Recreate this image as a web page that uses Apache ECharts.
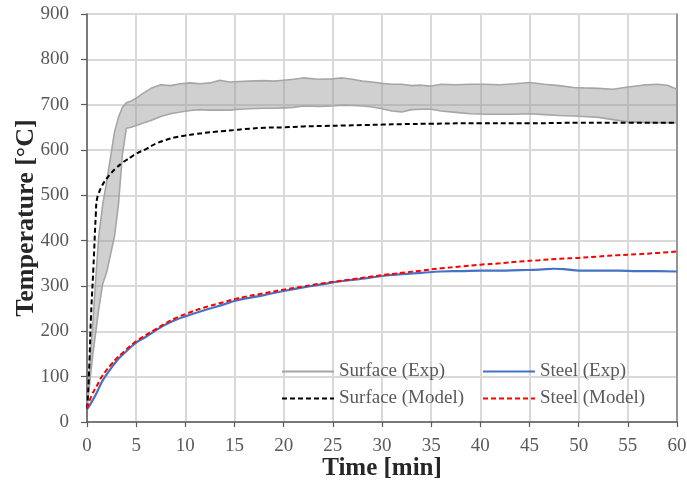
<!DOCTYPE html>
<html>
<head>
<meta charset="utf-8">
<script src="https://cdn.jsdelivr.net/npm/echarts@6/dist/echarts.min.js"></script>
<style>
html,body{margin:0;padding:0;background:#fff;}
#chart{width:687px;height:488px;}
</style>
</head>
<body>
<div id="chart"></div>
<script>
// ---- data ----
var surfExpTime = [0,0.3,0.6,0.9,1.2,1.6,2.0,2.4,2.8,3.2,3.6,4.0,4.5,5,5.5,6.5,7.5,8.5,9.5,10.5,11.5,12.5,13.5,14.5,15.5,16.5,18,19,20,21,22,23.5,25,26,27,28,29,30,31,32,33,34,35,36,37.5,39,40.5,42,43.5,45,46.5,48,49.5,50.5,52,53.5,55,56.5,58,59,60];
var surfExpHigh = [35,130,220,320,410,480,530,585,640,672,694,704,708,714,722,736,744,742,746,748,746,748,754,750,751,752,753,752,754,756,759,756,757,759,756,752,750,747,745,745,742,743,741,745,744,745,745,744,746,749,745,742,738,737,736,734,739,743,745,743,734];
var surfExpLow = [30,90,150,200,250,305,330,370,410,480,590,648,650,654,658,665,674,680,684,687,689,688,688,688,690,691,692,692,693,694,697,696,697,699,698,697,695,691,686,684,689,690,690,686,683,680,679,679,679,680,678,676,675,674,672,667,662,661,660,660,660];

var surfModelTime = [0,0.1,0.25,0.4,0.65,0.9,1.0,1.2,1.5,2,2.5,3,3.5,4,4.5,5,6,7,8,9,10,11,12,13,14,15,16,18,20,22,24,26,28,30,32,35,40,45,50,55,60];
var surfModel = [30,60,135,230,340,460,490,505,520,537,550,561,570,578,585,592,602,614,622,628,632,635,638,640,642,644,646,649,650,652,653,654,655,656,657,658,659,659,660,660,660];

var steelTime = [0,0.5,1,1.5,2,2.5,3,3.5,4,5,6,7,8,9,10,12,14,15,16,18,20,22,24,25,26,28,30,32,34,36,38,40,42,44,46,47.5,49,50,52,54,56,58,60];
var steelExp = [28,45,65,88,105,120,134,146,156,175,188,202,215,225,233,247,260,267,272,280,289,297,304,308,311,316,322,326,329,332,333,334,334,335,336,338,336,334,334,334,333,333,332];

var steelModelTime = [0,0.5,1,1.5,2,2.5,3,3.5,4,5,6,7,8,9,10,12,14,15,16,18,20,22,24,26,28,30,32,34,36,38,40,42,44,46,48,50,52,54,56,58,60];
var steelModel = [30,60,80,100,115,128,140,150,160,178,192,205,218,229,238,253,265,271,276,284,292,299,306,312,318,324,329,334,339,343,347,350,354,357,360,362,365,368,370,373,376];

var xTicks = [0,5,10,15,20,25,30,35,40,45,50,55,60];
var yTicks = [0,100,200,300,400,500,600,700,800,900];
var legendNames = ['Surface (Exp)','Steel (Exp)','Surface (Model)','Steel (Model)'];

// ---- build ----
function pairs(xs, ys){ return xs.map(function(x,i){ return [x, ys[i]]; }); }
var bandRows = surfExpTime.map(function(t,i){ return [t, surfExpLow[i], surfExpHigh[i]]; });

var FONT = '"Liberation Serif", "DejaVu Serif", serif';
var chart = echarts.init(document.getElementById('chart'), null, {renderer:'canvas'});

function leg(name, left, top){
  return {
    data:[name], left:left, top:top, itemWidth:52, itemHeight:14, itemGap:0,
    itemStyle:{opacity:0},
    textStyle:{fontFamily:FONT, fontSize:19, color:'#595959'},
    selectedMode:false
  };
}

chart.setOption({
  animation:false,
  backgroundColor:'#ffffff',
  grid:{left:87, right:10, top:14, bottom:66, containLabel:false, outerBoundsMode:'none'},
  legend:[
    leg(legendNames[0], 276, 357),
    leg(legendNames[1], 477, 357),
    leg(legendNames[2], 276, 384),
    leg(legendNames[3], 477, 384)
  ],
  xAxis:{
    type:'value', min:xTicks[0], max:xTicks[xTicks.length-1], interval:5,
    name:'Time [min]', nameLocation:'middle', nameGap:34, nameMoveOverlap:false,
    nameTextStyle:{fontFamily:FONT, fontSize:25, fontWeight:'bold', color:'#262626'},
    axisLine:{show:true, onZero:false, lineStyle:{color:'#595959', width:1.5}},
    axisTick:{show:true, inside:false, length:5, lineStyle:{color:'#595959', width:1.2}},
    axisLabel:{fontFamily:FONT, fontSize:19, color:'#595959', margin:15},
    splitLine:{show:true, lineStyle:{color:'#d9d9d9', width:2}}
  },
  yAxis:[{
    type:'value', min:yTicks[0], max:yTicks[yTicks.length-1], interval:100,
    name:'Temperature [°C]', nameLocation:'middle', nameGap:48, nameRotate:90, nameMoveOverlap:false,
    nameTextStyle:{fontFamily:FONT, fontSize:26, fontWeight:'bold', color:'#262626'},
    axisLine:{show:true, lineStyle:{color:'#595959', width:1.5}},
    axisTick:{show:true, inside:false, length:6, lineStyle:{color:'#595959', width:1.2}},
    axisLabel:{fontFamily:FONT, fontSize:19, color:'#595959', margin:18},
    splitLine:{show:true, lineStyle:{color:'#d9d9d9', width:2}}
  },{
    type:'value', min:0, max:900, interval:100, position:'right',
    axisLine:{show:true, lineStyle:{color:'#7f7f7f', width:1.5}},
    axisTick:{show:false}, axisLabel:{show:false}, splitLine:{show:false}
  }],
  series:[
    {
      name:'band', type:'custom', z:1, silent:true,
      data:bandRows,
      encode:{x:0, y:[1,2]},
      renderItem:function(params, api){
        if (params.dataIndex !== 0) return null;
        var pts = [];
        for (var i = 0; i < bandRows.length; i++) pts.push(api.coord([bandRows[i][0], bandRows[i][2]]));
        for (var j = bandRows.length - 1; j >= 0; j--) pts.push(api.coord([bandRows[j][0], bandRows[j][1]]));
        return {type:'polygon', shape:{points:pts}, style:{fill:'rgba(150,150,150,0.45)', stroke:null}};
      }
    },
    {
      name:legendNames[0], type:'line', symbol:'none', smooth:false,
      data:pairs(surfExpTime, surfExpHigh),
      lineStyle:{color:'#a6a6a6', width:1.6}, itemStyle:{color:'#a6a6a6'}, z:2
    },
    {
      name:legendNames[0], type:'line', symbol:'none', smooth:false,
      data:pairs(surfExpTime, surfExpLow),
      lineStyle:{color:'#a6a6a6', width:1.6}, itemStyle:{color:'#a6a6a6'}, z:2
    },
    {
      name:legendNames[1], type:'line', symbol:'none', smooth:true,
      data:pairs(steelTime, steelExp),
      lineStyle:{color:'#4472c4', width:2.2}, itemStyle:{color:'#4472c4'}, z:3
    },
    {
      name:legendNames[2], type:'line', symbol:'none', smooth:true,
      data:pairs(surfModelTime, surfModel),
      lineStyle:{color:'#000000', width:2, type:[5,3]}, itemStyle:{color:'#000000'}, z:4
    },
    {
      name:legendNames[3], type:'line', symbol:'none', smooth:true,
      data:pairs(steelModelTime, steelModel),
      lineStyle:{color:'#ff0000', width:2, type:[5,3]}, itemStyle:{color:'#ff0000'}, z:5
    }
  ]
});
</script>
</body>
</html>
